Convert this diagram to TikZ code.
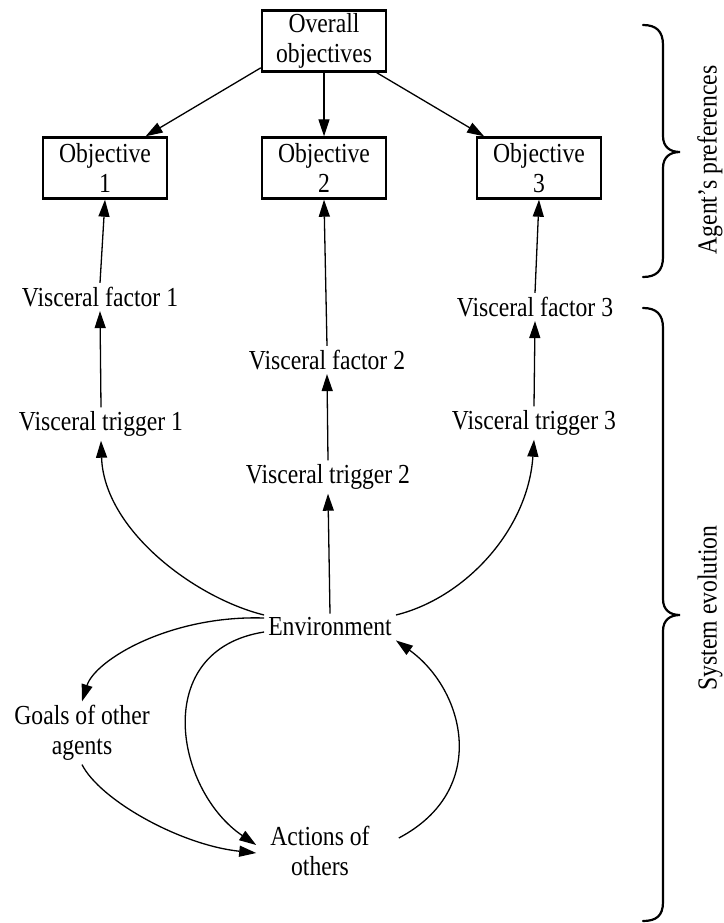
\documentclass[tikz,border=0pt]{standalone}
\usepackage{fontspec}
\setmainfont{Liberation Serif}[FakeStretch=0.86]
\usetikzlibrary{arrows.meta}
\begin{document}
\begin{tikzpicture}[x=1pt,y=-1pt,
  every node/.style={font=\fontsize{27.5}{29.5}\selectfont, align=center, inner sep=4pt},
  objbox/.style={draw, line width=2.4pt, minimum width=124pt, minimum height=61pt, inner sep=2pt},
  arr/.style={line width=1.3pt, -{Triangle[length=17pt,width=11pt]}},
  bracepath/.style={line width=2.2pt, line cap=round}]
\useasboundingbox (0,0) rectangle (723,923);

% objective boxes
\node[objbox] (ov) at (324,41) {Overall\\objectives};
\node[objbox] (o1) at (105,168) {Objective\\1};
\node[objbox] (o2) at (324,168) {Objective\\2};
\node[objbox] (o3) at (539,168) {Objective\\3};

% visceral factors and triggers
\node (vf1) at (100,297) {Visceral factor 1};
\node (vf2) at (327,360) {Visceral factor 2};
\node (vf3) at (535,307) {Visceral factor 3};
\node (vt1) at (101,424) {Visceral trigger 1};
\node (vt2) at (328,477) {Visceral trigger 2};
\node (vt3) at (534,423) {Visceral trigger 3};

% environment and other agents
\node (env) at (330,627) {Environment};
\node (goals) at (82,733) {Goals of other\\agents};
\node (act) at (320,851) {Actions of\\others};

% preferences hierarchy
\draw[arr] (ov.203) -- (o1.38);
\draw[arr] (ov.south) -- (o2.north);
\draw[arr] (ov.-31) -- (o3.150);

% visceral chains
\draw[arr] (vf1.north) -- (o1.south);
\draw[arr] (vt1.north) -- (vf1.south);
\draw[arr] (vf2.north) -- (o2.south);
\draw[arr] (vt2.north) -- (vf2.south);
\draw[arr] (vf3.north) -- (o3.south);
\draw[arr] (vt3.north) -- (vf3.south);

% environment triggers
\draw[arr] ([yshift=12pt]env.west) .. controls (195,598) and (104,530) .. (vt1.south);
\draw[arr] (env.north) -- (vt2.south);
\draw[arr] ([yshift=12pt]env.east) .. controls (465,598) and (528,530) .. (vt3.south);

% feedback loop with other agents
\draw[arr] ([yshift=9pt]env.west) .. controls (170,615) and (95,660) .. (goals.north);
\draw[arr] ([yshift=-5pt]env.west) .. controls (150,650) and (175,790) .. ([xshift=-10pt,yshift=6pt]act.west);
\draw[arr] (goals.south) .. controls (100,800) and (180,845) .. ([xshift=-10pt,yshift=-2pt]act.west);
\draw[arr] ([xshift=25pt,yshift=13pt]act.east) .. controls (490,790) and (465,690) .. (env.south east);

% braces
\draw[bracepath] (643,25) .. controls (656,25) and (663,31) .. (663,45) -- (663,136)
  .. controls (663,147) and (670,152) .. (680,152)
  .. controls (670,152) and (663,157) .. (663,168) -- (663,257)
  .. controls (663,271) and (656,277) .. (643,277);
\draw[bracepath] (643,308) .. controls (656,308) and (663,314) .. (663,328) -- (663,599)
  .. controls (663,610) and (670,615) .. (680,615)
  .. controls (670,615) and (663,620) .. (663,631) -- (663,902)
  .. controls (663,916) and (656,921) .. (643,921);

\node[rotate=90] (pref) at (710,160) {Agent’s preferences};
\node[rotate=90] (sysev) at (710,608) {System evolution};
\end{tikzpicture}
\end{document}
